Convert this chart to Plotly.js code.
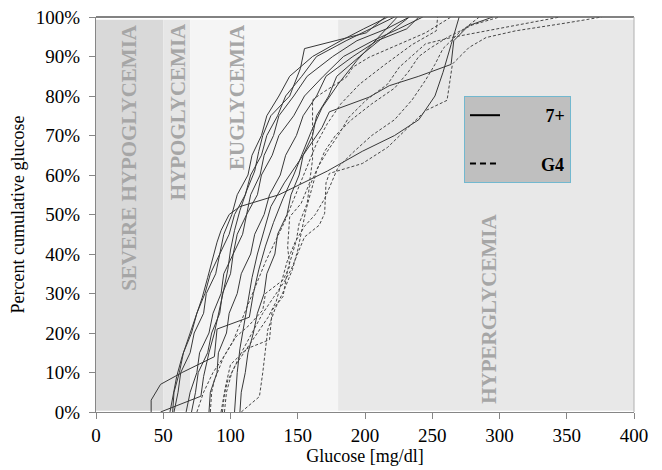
<!DOCTYPE html>
<html>
<head>
<meta charset="utf-8">
<script src="https://cdn.plot.ly/plotly-3.0.1.min.js"></script>
<style>
html,body{margin:0;padding:0;background:#fff;}
#chart{width:662px;height:470px;}
</style>
</head>
<body>
<div id="chart"></div>
<script>
// ---- Data (glucose mg/dl vs cumulative percent) ----
// 7+ sensor (solid lines)
const s1x = [41,41,48,64,88,90,114,117,121,126,132,139,147,154,160,168,180,194,210,224];
const s1y = [0,3,7,10,14,21,24,30,36,42,48,54,60,66,71,77,83,89,95,100];
const s2x = [48,78,80,84,88,92,95,98,100,103,107,112,118,121,124,130,144,152,155,201,208,215];
const s2y = [0,4,9,15,20,26,31,36,41,46,51,56,61,66,70,75,80,87,92,96,98,100];
const s3x = [55,57,60,64,69,74,79,83,87,90,93,99,107,136,172,198,222,240,252,258,264,270];
const s3y = [0,4,9,14,19,24,29,34,39,43,46,50,52,55,61,66,70,74,80,86,93,100];
const s4x = [57,58,62,65,71,75,81,85,92,95,101,105,113,116,123,127,136,144,161,182,199,217];
const s4y = [0,5,10,15,20,25,30,35,40,45,50,55,60,65,70,75,80,85,90,94,97,100];
const s5x = [58,61,63,70,73,80,82,89,92,99,103,111,115,123,127,135,141,153,164,186,204,222];
const s5y = [0,5,10,15,20,25,30,35,40,45,50,55,60,65,70,75,80,85,90,94,97,100];
const s6x = [67,70,75,77,84,87,93,95,102,105,112,115,122,125,132,136,147,157,176,194,216,233];
const s6y = [0,5,10,15,20,25,30,35,40,45,50,55,60,65,70,75,80,85,90,94,97,100];
const s7x = [71,74,76,83,86,92,94,100,102,109,112,120,123,131,136,147,155,169,184,206,225,243];
const s7y = [0,5,10,15,20,25,30,35,40,45,50,55,60,65,70,75,80,85,90,94,97,100];
const s8x = [84,85,90,91,97,99,105,108,115,118,125,129,137,141,149,154,164,171,191,209,231,240];
const s8y = [0,5,10,15,20,25,30,35,40,45,50,55,60,65,70,75,80,85,90,94,97,100];
const s9x = [103,104,105,107,110,113,116,120,125,130,140,150,160,168,173.5,203,218,240,264,266,277,292,295];
const s9y = [0,5,10,16,22,28,34,40,46,52,58,63,68,72,76,79.7,82.6,85,88,94,97.8,99.5,100];
const s10x = [107,108,111,113,117,120,125,127,133,135,142,145,151,154,161,164,173,179,196,214,233];
const s10y = [0,5,10,15,20,25,30,35,40,45,50,55,60,65,70,75,80,85,90,95,100];

// G4 sensor (dashed lines)
const d1x = [75,80,87,95,102,108,114,120,126,133,140,146,152,158,164,172,182,196,215,235,253,254];
const d1y = [0,5,10,14,18,23,28,33,38,43,48,53,58,63,68,73,78,83,88,93,96.5,100];
const d2x = [85,86,88,95,104,114,124,126,139,144,142.5,144,152.5,158.6,160,161,161,167,186,191,203,225,245,264];
const d2y = [0,5,8,14,19,22,25.8,30,33.4,36.8,41.8,49.4,52.8,57.8,61.2,64,79,80.5,84.7,87.3,89.8,93,96,100];
const d3x = [94,96,100,112,129,131,139,142.5,149,151,157,158.6,165,172,180,188,200.7,216.8,225.5,245,264,290,320,345];
const d3y = [0,6,12,16,18.3,25.8,29.2,36,43.5,47.7,52.8,57,62,66,70,74.6,78.9,83,87.3,93.2,94.8,96.5,98.5,100];
const d4x = [95.5,97,101,108,116,124,132,140,145,149,155,166,170,171,173.5,198,216.8,245,261,265,277.4,290,312,350,376];
const d4y = [0,5,10,15,20,25,29,33,36,39.3,44.3,47.3,50.3,58,60.4,62.9,67,76.3,78.9,88.1,92.3,94.8,96.5,98.5,100];
const d5x = [108,121.5,124,127.7,133,140,146,150,153,156,160,164,170,178,190,205,222,232,240,248,262,280,300];
const d5y = [0,3.9,10,20.8,26,31,36,41,46,51,56,61,66,70,74,78,82,86,90,92,95,98,100];
const d6x = [93,95,98,104,112,120,128,134,138,142,148,155,163,170,175,180,192,205,222,235,245,252,258,270,285];
const d6y = [0,4,8,12,16,20,24,28,33,38,43,47,50,54,58,62,66,70,74,79,84,88,92,96,100];

const solidSeries = [[s1x,s1y],[s2x,s2y],[s3x,s3y],[s4x,s4y],[s5x,s5y],[s6x,s6y],[s7x,s7y],[s8x,s8y],[s9x,s9y],[s10x,s10y]];
const dashedSeries = [[d1x,d1y],[d2x,d2y],[d3x,d3y],[d4x,d4y],[d5x,d5y],[d6x,d6y]];

// Glycemic zones
const zoneNames = ['SEVERE HYPOGLYCEMIA','HYPOGLYCEMIA','EUGLYCEMIA','HYPERGLYCEMIA'];
const zoneStart = [0,50,70,180];
const zoneEnd = [50,70,180,400];
const zoneLabelX = [25,61,105,292];

const legendNames = ['7+','G4'];

// ---- Build ----
const NB = '\u00a0';
const traces = [];
solidSeries.forEach((s,i)=>{
  traces.push({x:s[0], y:s[1], type:'scatter', mode:'lines',
    line:{color:'#383838', width:1}, name:legendNames[0],
    showlegend:false, hoverinfo:'skip'});
});
dashedSeries.forEach((s,i)=>{
  traces.push({x:s[0], y:s[1], type:'scatter', mode:'lines',
    line:{color:'#474747', width:1, dash:'3px,2px'}, name:legendNames[1],
    showlegend:false, hoverinfo:'skip'});
});
// legend keys (no data points; only the legend sample is drawn)
traces.push({x:[null], y:[null], type:'scatter', mode:'lines', line:{color:'#000', width:2},
  name:NB.repeat(9)+legendNames[0], legendgroup:'a', showlegend:true});
traces.push({x:[null], y:[null], type:'scatter', mode:'lines', line:{color:'#000', width:2, dash:'6px,4px'},
  name:NB.repeat(8)+legendNames[1], legendgroup:'b', showlegend:true});

const zoneColors = ['#d9d9d9','#e6e6e6','#f5f5f5','#e8e8e8'];
const shapes = zoneNames.map((n,i)=>({type:'rect', xref:'x', yref:'y', x0:zoneStart[i], x1:zoneEnd[i], y0:0.3, y1:99.3,
  fillcolor:zoneColors[i], line:{width:0}, layer:'below'}));
shapes.push({type:'line', xref:'paper', yref:'paper', x0:0, x1:1, y0:1, y1:1, line:{color:'#595959', width:1.5}});
shapes.push({type:'line', xref:'paper', yref:'paper', x0:1, x1:1, y0:0, y1:1, line:{color:'#b0b0b0', width:1}});

const annotations = zoneNames.map((n,i)=>({
  text:n, x:zoneLabelX[i], xref:'x', yref:'y',
  y: i===3 ? 1.5 : 98.8, yanchor: i===3 ? 'bottom' : 'top', xanchor:'center',
  textangle:-90, showarrow:false,
  font:{family:'Liberation Serif, Times New Roman, serif', size:21, color:'#a6a6a6', weight:700}
}));

const serif = 'Liberation Serif, Times New Roman, serif';
const layout = {
  width:662, height:470,
  margin:{l:96, r:28, t:17, b:58},
  paper_bgcolor:'#ffffff', plot_bgcolor:'#ffffff',
  font:{family:serif, size:19, color:'#000'},
  xaxis:{range:[0,400], dtick:50, tick0:0, showgrid:false, zeroline:false,
    showline:true, linecolor:'#868686', linewidth:1, ticks:'outside', ticklen:6, tickcolor:'#868686',
    tickfont:{family:serif, size:19}, title:{text:'Glucose [mg/dl]', font:{family:serif, size:18}, standoff:4}},
  yaxis:{range:[0,100], dtick:10, tick0:0, ticksuffix:'%', showgrid:false, zeroline:false,
    showline:true, linecolor:'#868686', linewidth:1, ticks:'outside', ticklen:6, tickcolor:'#868686',
    ticklabelstandoff:5,
    tickfont:{family:serif, size:19}, title:{text:'Percent cumulative glucose', font:{family:serif, size:18}, standoff:6}},
  shapes:shapes,
  annotations:annotations,
  showlegend:true,
  legend:{x:0.684, y:0.80, xanchor:'left', yanchor:'top', bgcolor:'#bfbfbf', bordercolor:'#72b8cf', borderwidth:1,
    font:{family:serif, size:18, color:'#000', weight:700}, traceorder:'grouped', tracegroupgap:22, itemwidth:30}
};

Plotly.newPlot('chart', traces, layout, {staticPlot:true, displayModeBar:false});
</script>
</body>
</html>
